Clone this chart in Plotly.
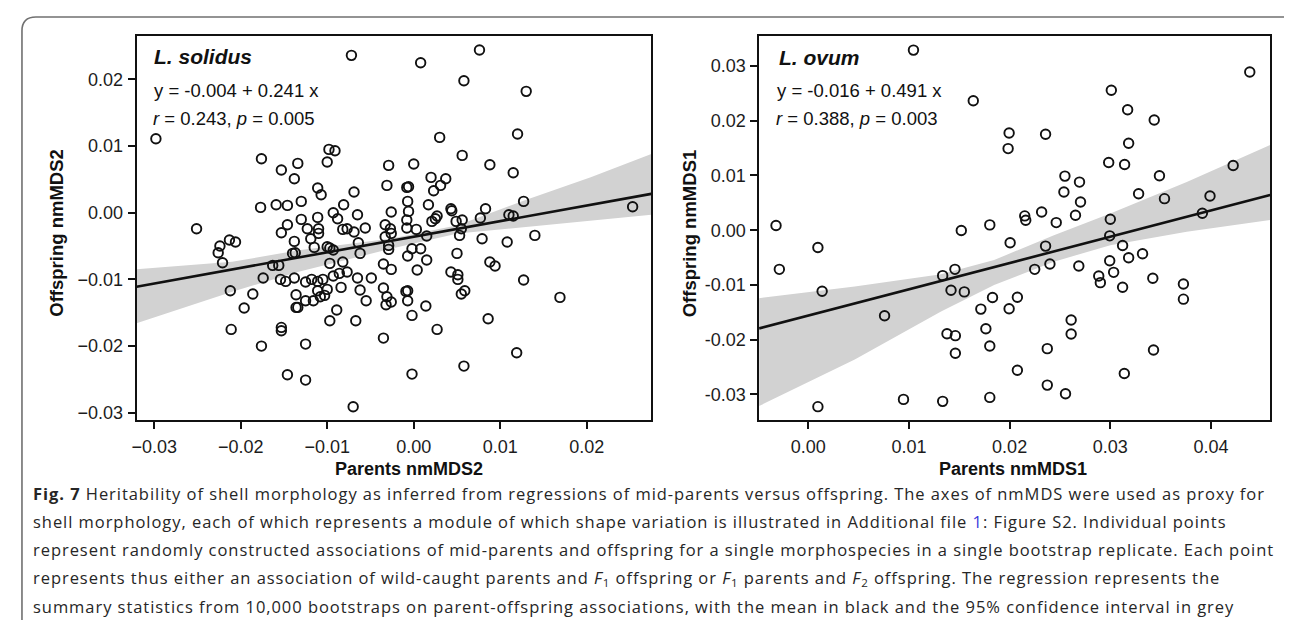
import plotly.graph_objects as go

W, H = 1292, 620

# ---- L. solidus (parents nmMDS2 vs offspring nmMDS2) ----
sol_x = [-0.0072, -0.0298, -0.0176, -0.0153, -0.0134, -0.0138, -0.0098, -0.0091, -0.0100, -0.0029,
         -0.0031, -0.0111, -0.0107, -0.0069, -0.0177, -0.0159, -0.0146, -0.0130, -0.0081, -0.0093,
         -0.0088, -0.0065, -0.0026, -0.0251, -0.0213, -0.0206, -0.0224, -0.0226, -0.0221, -0.0146,
         -0.0153, -0.0130, -0.0123, -0.0111, -0.0110, -0.0110, -0.0082, -0.0077, -0.0069, -0.0056,
         -0.0033, -0.0027, -0.0026, -0.0138, -0.0119, -0.0064, -0.0062, -0.0033, -0.0115, -0.0100,
         -0.0097, -0.0093, -0.0140, -0.0137, -0.0029, -0.0029, -0.0163, -0.0156, -0.0097, -0.0082,
         -0.0035, -0.0026, -0.0174, -0.0154, -0.0148, -0.0138, -0.0125, -0.0118, -0.0111, -0.0105,
         -0.0093, -0.0086, -0.0077, -0.0065, -0.0049, -0.0212, -0.0186, -0.0111, -0.0100, -0.0084,
         -0.0062, -0.0035, -0.0031, -0.0136, -0.0196, -0.0136, -0.0134, -0.0125, -0.0116, -0.0108,
         -0.0103, -0.0055, -0.0089, -0.0032, -0.0026, -0.0211, -0.0153, -0.0153, -0.0097, -0.0067,
         -0.0176, -0.0125, -0.0035, -0.0146, -0.0125, -0.0070,
         0.0076, 0.0008, 0.0058, 0.0130, 0.0030, 0.0120, 0.0056, 0.0000, 0.0088, 0.0115,
         0.0020, 0.0037, 0.0031, -0.0008, -0.0006, 0.0023, -0.0007, 0.0017, -0.0006, 0.0043,
         0.0044, 0.0083, 0.0127, 0.0253, -0.0008, 0.0021, 0.0027, 0.0025, 0.0049, 0.0056,
         0.0077, 0.0110, 0.0115, -0.0008, 0.0003, 0.0015, 0.0053, 0.0055, 0.0079, 0.0108,
         0.0140, -0.0002, 0.0008, -0.0007, 0.0015, 0.0050, 0.0004, 0.0088, 0.0094, 0.0043,
         0.0051, 0.0051, 0.0127, -0.0009, -0.0007, -0.0007, 0.0055, 0.0059, 0.0169, 0.0014,
         -0.0002, 0.0027, 0.0086, 0.0119, 0.0058, -0.0002]
sol_y = [0.0236, 0.0111, 0.0081, 0.0064, 0.0074, 0.0051, 0.0095, 0.0093, 0.0076, 0.0071,
         0.0041, 0.0037, 0.0027, 0.0031, 0.0008, 0.0012, 0.0011, 0.0017, 0.0012, 0.0000,
         -0.0009, -0.0003, 0.0001, -0.0024, -0.0041, -0.0044, -0.0050, -0.0060, -0.0075, -0.0018,
         -0.0030, -0.0010, -0.0024, -0.0007, -0.0024, -0.0031, -0.0025, -0.0024, -0.0029, -0.0023,
         -0.0018, -0.0024, -0.0031, -0.0043, -0.0039, -0.0045, -0.0061, -0.0036, -0.0052, -0.0051,
         -0.0053, -0.0056, -0.0061, -0.0060, -0.0049, -0.0055, -0.0079, -0.0079, -0.0076, -0.0074,
         -0.0077, -0.0085, -0.0098, -0.0100, -0.0103, -0.0098, -0.0104, -0.0100, -0.0103, -0.0100,
         -0.0095, -0.0091, -0.0089, -0.0098, -0.0098, -0.0117, -0.0122, -0.0117, -0.0115, -0.0112,
         -0.0116, -0.0113, -0.0126, -0.0123, -0.0143, -0.0142, -0.0142, -0.0132, -0.0132, -0.0126,
         -0.0124, -0.0132, -0.0146, -0.0138, -0.0134, -0.0175, -0.0172, -0.0177, -0.0162, -0.0162,
         -0.0200, -0.0197, -0.0188, -0.0243, -0.0251, -0.0291,
         0.0244, 0.0225, 0.0198, 0.0182, 0.0113, 0.0118, 0.0086, 0.0073, 0.0072, 0.0060,
         0.0053, 0.0051, 0.0041, 0.0038, 0.0039, 0.0033, 0.0017, 0.0012, 0.0002, 0.0006,
         0.0003, 0.0006, 0.0017, 0.0009, -0.0011, -0.0013, -0.0005, -0.0009, -0.0013, -0.0011,
         -0.0008, -0.0003, -0.0005, -0.0023, -0.0025, -0.0035, -0.0034, -0.0024, -0.0039, -0.0044,
         -0.0034, -0.0054, -0.0054, -0.0065, -0.0071, -0.0061, -0.0086, -0.0074, -0.0080, -0.0089,
         -0.0093, -0.0100, -0.0101, -0.0118, -0.0117, -0.0132, -0.0122, -0.0117, -0.0127, -0.0140,
         -0.0154, -0.0175, -0.0159, -0.0210, -0.0230, -0.0242]
sol_band_x = [-0.03204, -0.02098, -0.0133, -0.00255, 0.00508, 0.01277, 0.02046, 0.02746]
sol_band_hi = [-0.00846, -0.00736, -0.00562, -0.00388, -0.00189, 0.00184, 0.00532, 0.00881]
sol_band_lo = [-0.01657, -0.01184, -0.00886, -0.00537, -0.00313, -0.00214, -0.00114, -0.0003]
sol_fit = (-0.0036, 0.234)  # intercept, slope of the drawn mean line

# ---- L. ovum (parents nmMDS1 vs offspring nmMDS1) ----
ovu_x = [0.01045, 0.04385, 0.0301, 0.01639, 0.03172, 0.03436, 0.01995, 0.02357, 0.03182, 0.01985,
         0.02984, 0.03142, 0.0422, 0.02549, 0.03488, 0.02694, 0.02539, 0.03281, 0.02704, 0.03538,
         0.0399, 0.02318, 0.0215, 0.0216, 0.02654, 0.02463, 0.0300, 0.03914, -0.0032, 0.01803,
         0.0152, 0.02994, 0.02005, 0.02357, 0.03122, 0.00096, 0.0332, 0.03182, 0.02994, 0.0240,
         0.02687, 0.02249, 0.01457, -0.00287, 0.03033, 0.01335, 0.02885, 0.03422, 0.02901, 0.03726,
         0.03122, 0.01418, 0.00138, 0.0155, 0.0183, 0.02077, 0.03726, 0.01714, 0.01995, 0.00758,
         0.02611, 0.01764, 0.01378, 0.01461, 0.02611, 0.01803, 0.02374, 0.01461, 0.03429, 0.02077,
         0.03139, 0.02374, 0.02555, 0.00946, 0.01335, 0.01803, 0.00096]
ovu_y = [0.0329, 0.0289, 0.02558, 0.02364, 0.0220, 0.02012, 0.01776, 0.01752, 0.01588, 0.01491,
         0.01236, 0.0120, 0.01182, 0.00988, 0.00994, 0.00879, 0.00697, 0.00667, 0.00515, 0.00576,
         0.00624, 0.00333, 0.00261, 0.00182, 0.00273, 0.00139, 0.0020, 0.00309, 0.00085, 0.00097,
         -0.00006, -0.00103, -0.0023, -0.00291, -0.00279, -0.00315, -0.0043, -0.00503, -0.00558, -0.00618,
         -0.00655, -0.00715, -0.00715, -0.00715, -0.0077, -0.0083, -0.00836, -0.00879, -0.00958, -0.00982,
         -0.01042, -0.01097, -0.01115, -0.01127, -0.0123, -0.01224, -0.0126, -0.01442, -0.01436, -0.01564,
         -0.01642, -0.018, -0.01891, -0.01927, -0.01897, -0.02115, -0.02164, -0.02248, -0.02188, -0.02558,
         -0.02618, -0.0283, -0.02988, -0.03091, -0.03127, -0.03055, -0.03224]
ovu_band_x = [-0.00488, 0.00462, 0.01319, 0.01846, 0.0244, 0.0300, 0.03759, 0.04587]
ovu_band_hi = [-0.01242, -0.0103, -0.00806, -0.00545, -0.00091, 0.00303, 0.00879, 0.01555]
ovu_band_lo = [-0.03212, -0.02364, -0.01485, -0.0100, -0.00576, -0.00273, -0.0003, 0.00185]
ovu_fit = (-0.0156, 0.4804)

sol_range_x = [-0.03204, 0.02745]
sol_range_y = [-0.03113, 0.02648]
ovu_range_x = [-0.00488, 0.04587]
ovu_range_y = [-0.03473, 0.03545]

sol_ticks_x = [-0.03, -0.02, -0.01, 0.00, 0.01, 0.02]
sol_ticks_y = [-0.03, -0.02, -0.01, 0.00, 0.01, 0.02]
ovu_ticks_x = [0.00, 0.01, 0.02, 0.03, 0.04]
ovu_ticks_y = [-0.03, -0.02, -0.01, 0.00, 0.01, 0.02, 0.03]
ovu_ticktext_y = ["-0.03", "-0.02", "-0.01", "0.00", "0.01", "0.02", "0.03"]

caption = [
    "<b>Fig. 7</b> Heritability of shell morphology as inferred from regressions of mid-parents versus offspring. "
    "The axes of nmMDS were used as proxy for",
    "shell morphology, each of which represents a module of which shape variation is illustrated in Additional file "
    "<span style='color:#3a3adb'>1</span>: Figure S2. Individual points",
    "represent randomly constructed associations of mid-parents and offspring for a single morphospecies in a single "
    "bootstrap replicate. Each point",
    "represents thus either an association of wild-caught parents and <i>F</i><sub>1</sub> offspring or "
    "<i>F</i><sub>1</sub> parents and <i>F</i><sub>2</sub> offspring. The regression represents the",
    "summary statistics from 10,000 bootstraps on parent-offspring associations, with the mean in black and the 95% "
    "confidence interval in grey",
]


def px(x):
    return x / W


def py(y):
    return 1 - y / H


PLOT_FONT = "Liberation Sans, Arial, sans-serif"
BAND = "#d2d2d2"

fig = go.Figure()


def add_panel(xs, ys, bx, bhi, blo, fit, xr, xa, ya):
    fig.add_trace(go.Scatter(x=bx, y=blo, mode="lines", line=dict(width=0), hoverinfo="skip",
                             showlegend=False, xaxis=xa, yaxis=ya))
    fig.add_trace(go.Scatter(x=bx, y=bhi, mode="lines", line=dict(width=0), fill="tonexty",
                             fillcolor=BAND, hoverinfo="skip", showlegend=False, xaxis=xa, yaxis=ya))
    fx = [xr[0], xr[1]]
    fy = [fit[0] + fit[1] * v for v in fx]
    fig.add_trace(go.Scatter(x=fx, y=fy, mode="lines", line=dict(color="#111111", width=2.6),
                             showlegend=False, xaxis=xa, yaxis=ya))
    fig.add_trace(go.Scatter(x=xs, y=ys, mode="markers",
                             marker=dict(symbol="circle-open", size=9.5, color="#111111",
                                         line=dict(width=1.9, color="#111111")),
                             showlegend=False, xaxis=xa, yaxis=ya))


add_panel(sol_x, sol_y, sol_band_x, sol_band_hi, sol_band_lo, sol_fit, sol_range_x, "x", "y")
add_panel(ovu_x, ovu_y, ovu_band_x, ovu_band_hi, ovu_band_lo, ovu_fit, ovu_range_x, "x2", "y2")

axis_style = dict(showline=True, linecolor="#111111", linewidth=1.6, mirror=True,
                  ticks="outside", ticklen=7, tickwidth=1.5, tickcolor="#111111",
                  showgrid=False, zeroline=False,
                  tickfont=dict(family=PLOT_FONT, size=18, color="#1c1c1c"))

y_dom = [py(414.3), py(28.3)]
fig.update_layout(
    width=W, height=H,
    margin=dict(l=0, r=0, t=0, b=0),
    paper_bgcolor="white", plot_bgcolor="white",
    xaxis=dict(domain=[px(124), px(640.7)], range=sol_range_x, tickvals=sol_ticks_x,
               tickformat=".2f", anchor="y", ticklabelstandoff=2, **axis_style),
    yaxis=dict(domain=y_dom, range=sol_range_y, tickvals=sol_ticks_y,
               tickformat=".2f", anchor="x", ticklabelstandoff=1, **axis_style),
    xaxis2=dict(domain=[px(749), px(1262)], range=ovu_range_x, tickvals=ovu_ticks_x,
                tickformat=".2f", anchor="y2", ticklabelstandoff=2, **axis_style),
    yaxis2=dict(domain=y_dom, range=ovu_range_y, tickvals=ovu_ticks_y, ticktext=ovu_ticktext_y,
                anchor="x2", ticklabelstandoff=1, **axis_style),
)

ann = []


def note(text, x, y, size, xanchor="left", angle=0, family=PLOT_FONT, color="#111111"):
    ann.append(dict(text=text, x=px(x), y=py(y), xref="paper", yref="paper", xanchor=xanchor,
                    yanchor="middle", showarrow=False, textangle=angle,
                    font=dict(family=family, size=size, color=color)))


# panel labels and statistics
note("<b><i>L. solidus</i></b>", 140, 49, 21)
note("y = -0.004 + 0.241 x", 140, 83, 18.5)
note("<i>r</i> = 0.243, <i>p</i> = 0.005", 139, 111, 18.5)
note("<b><i>L. ovum</i></b>", 767, 50, 21)
note("y = -0.016 + 0.491 x", 765, 83, 18.5)
note("<i>r</i> = 0.388, <i>p</i> = 0.003", 764, 111, 18.5)

# axis titles
note("<b>Parents nmMDS2</b>", 398, 463, 18, xanchor="center")
note("<b>Parents nmMDS1</b>", 1004, 463, 18, xanchor="center")
note("<b>Offspring nmMDS2</b>", 44, 226, 18.5, xanchor="center", angle=-90)
note("<b>Offspring nmMDS1</b>", 680, 226, 18.5, xanchor="center", angle=-90)

# caption: the source figure is slightly stretched sideways, so widen with letter spacing
for i, line in enumerate(caption):
    note(f"<span style='letter-spacing:0.95px'>{line}</span>", 18, 488 + 28.3 * i, 16.5,
         family="Open Sans, Noto Sans, sans-serif", color="#262626")

fig.update_layout(annotations=ann)

# rounded frame around figure and caption
x0, x1, yt, yb = px(9), px(1290), py(9), py(640)
rx, ry = 14 / W, 14 / H
frame = (f"M {x0},{yb} L {x0},{yt - ry} Q {x0},{yt} {x0 + rx},{yt} "
         f"L {x1 - rx},{yt} Q {x1},{yt} {x1},{yt - ry} L {x1},{yb}")
fig.add_shape(type="path", path=frame, xref="paper", yref="paper",
              line=dict(color="#707070", width=1.6))

fig.write_html("out.html")
